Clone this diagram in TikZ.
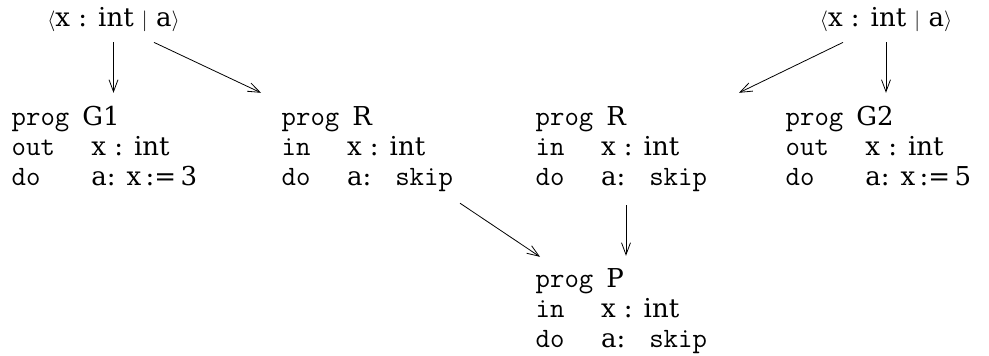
\documentclass[tikz,border=0pt]{standalone}
\usepackage{fontspec}
\setmainfont{DejaVu Serif}
\setmonofont{Latin Modern Mono}[Scale=1.077]
\usetikzlibrary{arrows.meta}
\newcommand{\angleL}{{\fontsize{20}{20}\selectfont$\langle$}}
\newcommand{\angleR}{{\fontsize{20}{20}\selectfont$\rangle$}}
\newcommand{\barmid}{{\fontsize{20}{20}\selectfont$|$}}

\begin{document}
\begin{tikzpicture}[
    x=1pt, y=-1pt,
    font=\fontsize{26}{30}\selectfont,
    lbl/.style={anchor=base, inner sep=0pt},
    progblk/.style={anchor=base west, inner sep=0pt},
    arr/.style={-{Straight Barb[length=12pt,width=9pt]}, line width=0.8pt},
  ]
    \useasboundingbox (0,0) rectangle (989,356);
    \node[lbl] (lblA) at (113.5,27) {\angleL x : int \barmid{} a\angleR};
    \node[lbl] (lblB) at (886,27) {\angleL x : int \barmid{} a\angleR};
    \node[progblk] (g1) at (11.5,125) {\begin{tabular}[t]{@{}l@{\hspace{36.5pt}}l@{}}
      \multicolumn{2}{@{}l@{}}{\texttt{prog}\hspace{13pt}G1}\\
      \texttt{out} & x : int\\
      \texttt{do} & a:\hspace{11pt}x\,:=\,3
    \end{tabular}};
    \node[progblk] (rA) at (281.5,125) {\begin{tabular}[t]{@{}l@{\hspace{36.5pt}}l@{}}
      \multicolumn{2}{@{}l@{}}{\texttt{prog}\hspace{13pt}R}\\
      \texttt{in} & x : int\\
      \texttt{do} & a:\hspace{24pt}\texttt{skip}
    \end{tabular}};
    \node[progblk] (rB) at (535.5,125) {\begin{tabular}[t]{@{}l@{\hspace{36.5pt}}l@{}}
      \multicolumn{2}{@{}l@{}}{\texttt{prog}\hspace{13pt}R}\\
      \texttt{in} & x : int\\
      \texttt{do} & a:\hspace{24pt}\texttt{skip}
    \end{tabular}};
    \node[progblk] (g2) at (785.5,125) {\begin{tabular}[t]{@{}l@{\hspace{36.5pt}}l@{}}
      \multicolumn{2}{@{}l@{}}{\texttt{prog}\hspace{13pt}G2}\\
      \texttt{out} & x : int\\
      \texttt{do} & a:\hspace{11pt}x\,:=\,5
    \end{tabular}};
    \node[progblk] (p) at (535.5,287) {\begin{tabular}[t]{@{}l@{\hspace{36.5pt}}l@{}}
      \multicolumn{2}{@{}l@{}}{\texttt{prog}\hspace{13pt}P}\\
      \texttt{in} & x : int\\
      \texttt{do} & a:\hspace{24pt}\texttt{skip}
    \end{tabular}};
    \draw[arr, shorten <=10pt, shorten >=11pt] (lblA.south) -- (lblA.south |- g1.north);
    \draw[arr] ([xshift=40.5pt,yshift=-10pt]lblA.south) -- ([xshift=-20.5pt,yshift=11pt]rA.north west);
    \draw[arr, shorten <=10pt, shorten >=11pt] (lblB.south) -- (lblB.south |- g2.north);
    \draw[arr] ([xshift=-43pt,yshift=-10pt]lblB.south) -- ([xshift=203.5pt,yshift=11pt]rB.north west);
    \draw[arr] ([xshift=178.5pt,yshift=-9pt]rA.south west) -- ([xshift=4.5pt,yshift=9pt]p.north west);
    \draw[arr] ([xshift=90.5pt,yshift=-11pt]rB.south west) -- ([xshift=90.5pt,yshift=10pt]p.north west);
  \end{tikzpicture}
\end{document}
